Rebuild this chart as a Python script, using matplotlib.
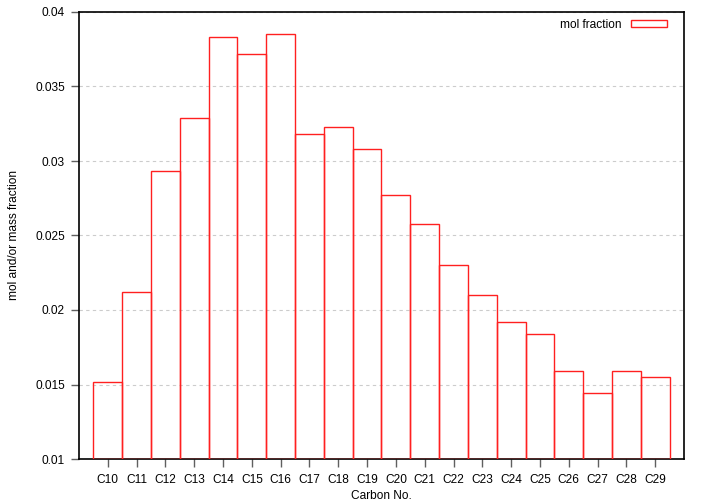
import matplotlib
matplotlib.use("Agg")
import matplotlib.pyplot as plt
import numpy as np

categories = ["C10", "C11", "C12", "C13", "C14", "C15", "C16", "C17", "C18", "C19",
              "C20", "C21", "C22", "C23", "C24", "C25", "C26", "C27", "C28", "C29"]
mol_fraction = [0.0152, 0.0212, 0.0293, 0.0329, 0.0383, 0.0372, 0.0385, 0.0318, 0.0323, 0.0308,
                0.0277, 0.0258, 0.0230, 0.0210, 0.0192, 0.0184, 0.0159, 0.0144, 0.0159, 0.0155]
yticks = [0.01, 0.015, 0.02, 0.025, 0.03, 0.035, 0.04]
ytick_labels = ["0.01", "0.015", "0.02", "0.025", "0.03", "0.035", "0.04"]

plt.rcParams['font.family'] = ['Liberation Sans', 'DejaVu Sans']
plt.rcParams['font.size'] = 8.6

fig = plt.figure(figsize=(7.05, 5.04), dpi=100)
ax = fig.add_axes([79/705, 1 - 459/504, (684-79)/705, (459-12)/504])

x = np.arange(len(categories))
base = 0.01
ax.bar(x, np.array(mol_fraction) - base, bottom=base, width=1.0, facecolor='none',
       edgecolor='#ff2020', linewidth=1.0, label='mol fraction', zorder=3)

ax.set_xlim(-1, 20)
ax.set_ylim(0.01, 0.04)
ax.set_xticks(x)
ax.set_xticklabels(categories)
ax.set_yticks(yticks)
ax.set_yticklabels(ytick_labels)
ax.tick_params(axis='both', direction='out', length=6, width=1, color='#606060', pad=4)
ax.tick_params(axis='x', pad=5)
ax.yaxis.grid(True, linestyle=(0, (3, 3)), color='#cccccc', linewidth=0.8)
ax.set_axisbelow(True)
for s in ax.spines.values():
    s.set_linewidth(1.2)
    s.set_color('black')

ax.set_xlabel("Carbon No.", labelpad=3)
ax.set_ylabel("mol and/or mass fraction", labelpad=11)

leg = ax.legend(loc='upper right', frameon=False, markerfirst=False,
                handlelength=3.0, handleheight=0.55, handletextpad=0.8,
                bbox_to_anchor=(1 - 12/605, 1 - 2/447), borderaxespad=0.0, fontsize=8.6)

fig.savefig("out.png", dpi=100, facecolor='white')
